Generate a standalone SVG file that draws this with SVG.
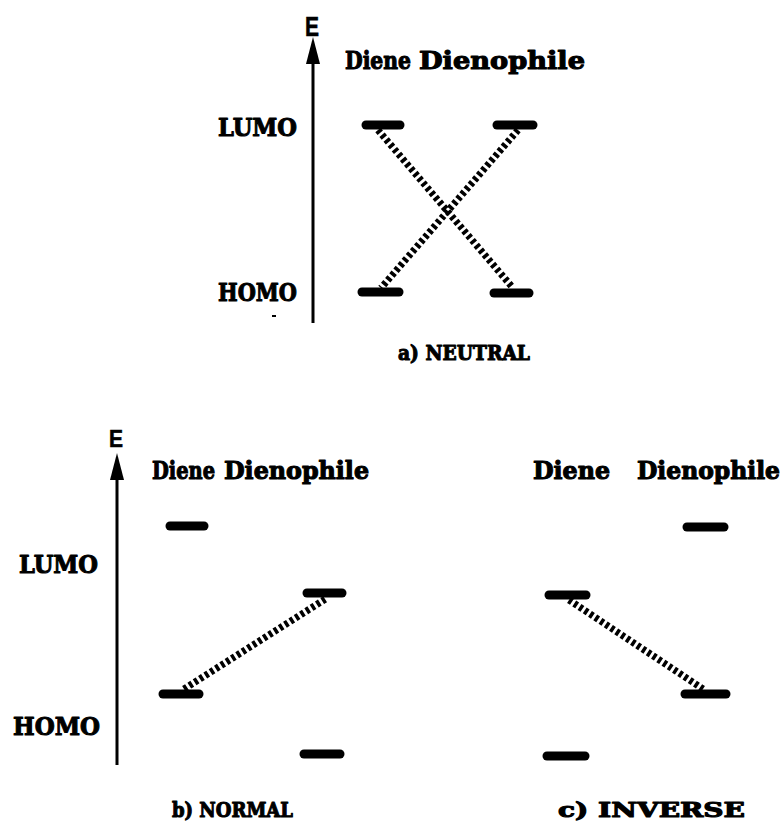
<svg xmlns="http://www.w3.org/2000/svg" width="783" height="828" viewBox="0 0 783 828">
  <style>
    .lbl { font-family: "DejaVu Serif", "Liberation Serif", serif; font-weight: bold; fill: #000; stroke: #000; stroke-width: 1.1; stroke-linejoin: round; }
    .axis-e { font-family: "Liberation Sans", Arial, sans-serif; font-weight: bold; fill: #000; stroke: #000; stroke-width: 0.6; }
    .level { stroke: #000; stroke-width: 9; stroke-linecap: round; fill: none; }
    .axis { stroke: #000; stroke-width: 3; fill: none; }
    .link { stroke: #000; stroke-width: 7; stroke-dasharray: 3.5 2.8; fill: none; }
  </style>

  <!-- (a) neutral -->
  <g id="axis-a">
    <line class="axis" x1="313" y1="58" x2="313" y2="323"/>
    <polygon points="313,37 306,64 320,64" fill="#000"/>
    <text class="axis-e" x="305" y="36" font-size="27" textLength="14" lengthAdjust="spacingAndGlyphs">E</text>
    <line x1="272" y1="316" x2="276" y2="316" stroke="#000" stroke-width="2"/>
  </g>
  <g id="labels-a">
    <text class="lbl" x="345" y="69" font-size="24" textLength="66" lengthAdjust="spacingAndGlyphs">Diene</text>
    <text class="lbl" x="419" y="69" font-size="24" textLength="166" lengthAdjust="spacingAndGlyphs">Dienophile</text>
    <text class="lbl" x="218" y="136" font-size="25" textLength="79" lengthAdjust="spacingAndGlyphs">LUMO</text>
    <text class="lbl" x="218" y="301" font-size="25" textLength="79" lengthAdjust="spacingAndGlyphs">HOMO</text>
    <text class="lbl" x="398" y="360" font-size="21" textLength="132" lengthAdjust="spacingAndGlyphs">a) NEUTRAL</text>
  </g>
  <g id="a-diene-lumo"><line class="level" x1="366" y1="125" x2="400" y2="125"/></g>
  <g id="a-dienophile-lumo"><line class="level" x1="497" y1="125" x2="533" y2="125"/></g>
  <g id="a-diene-homo"><line class="level" x1="362" y1="292" x2="399" y2="292"/></g>
  <g id="a-dienophile-homo"><line class="level" x1="494" y1="293" x2="529" y2="293"/></g>

  <!-- (b) normal -->
  <g id="axis-b">
    <line class="axis" x1="117" y1="475" x2="117" y2="765"/>
    <polygon points="117,453 110,480 124,480" fill="#000"/>
    <text class="axis-e" x="109" y="447" font-size="23" textLength="14" lengthAdjust="spacingAndGlyphs">E</text>
  </g>
  <g id="labels-b">
    <text class="lbl" x="152" y="479" font-size="24" textLength="63" lengthAdjust="spacingAndGlyphs">Diene</text>
    <text class="lbl" x="224" y="479" font-size="24" textLength="145" lengthAdjust="spacingAndGlyphs">Dienophile</text>
    <text class="lbl" x="19" y="573" font-size="25" textLength="79" lengthAdjust="spacingAndGlyphs">LUMO</text>
    <text class="lbl" x="13" y="735" font-size="25" textLength="87" lengthAdjust="spacingAndGlyphs">HOMO</text>
    <text class="lbl" x="172" y="817" font-size="21" textLength="121" lengthAdjust="spacingAndGlyphs">b) NORMAL</text>
  </g>
  <g id="b-diene-lumo"><line class="level" x1="170" y1="526" x2="204" y2="526"/></g>
  <g id="b-dienophile-lumo"><line class="level" x1="307" y1="593" x2="342" y2="593"/></g>
  <g id="b-diene-homo"><line class="level" x1="163" y1="694" x2="199" y2="694"/></g>
  <g id="b-dienophile-homo"><line class="level" x1="304" y1="754" x2="340" y2="754"/></g>

  <!-- (c) inverse -->
  <g id="labels-c">
    <text class="lbl" x="533" y="479" font-size="24" textLength="77" lengthAdjust="spacingAndGlyphs">Diene</text>
    <text class="lbl" x="637" y="479" font-size="24" textLength="143" lengthAdjust="spacingAndGlyphs">Dienophile</text>
    <text class="lbl" x="558" y="817" font-size="21" textLength="187" lengthAdjust="spacingAndGlyphs">c) INVERSE</text>
  </g>
  <g id="c-dienophile-lumo"><line class="level" x1="687" y1="527" x2="724" y2="527"/></g>
  <g id="c-diene-lumo"><line class="level" x1="549" y1="595" x2="586" y2="595"/></g>
  <g id="c-dienophile-homo"><line class="level" x1="685" y1="694" x2="726" y2="694"/></g>
  <g id="c-diene-homo"><line class="level" x1="547" y1="756" x2="585" y2="756"/></g>

  <!-- HOMO-LUMO interactions -->
  <g id="connectors">
    <line class="link" x1="378" y1="130" x2="513" y2="288"/>
    <line class="link" x1="518" y1="130" x2="381" y2="288"/>
    <line class="link" x1="184" y1="689" x2="327" y2="598"/>
    <line class="link" x1="569" y1="600" x2="703" y2="689"/>
  </g>
</svg>
